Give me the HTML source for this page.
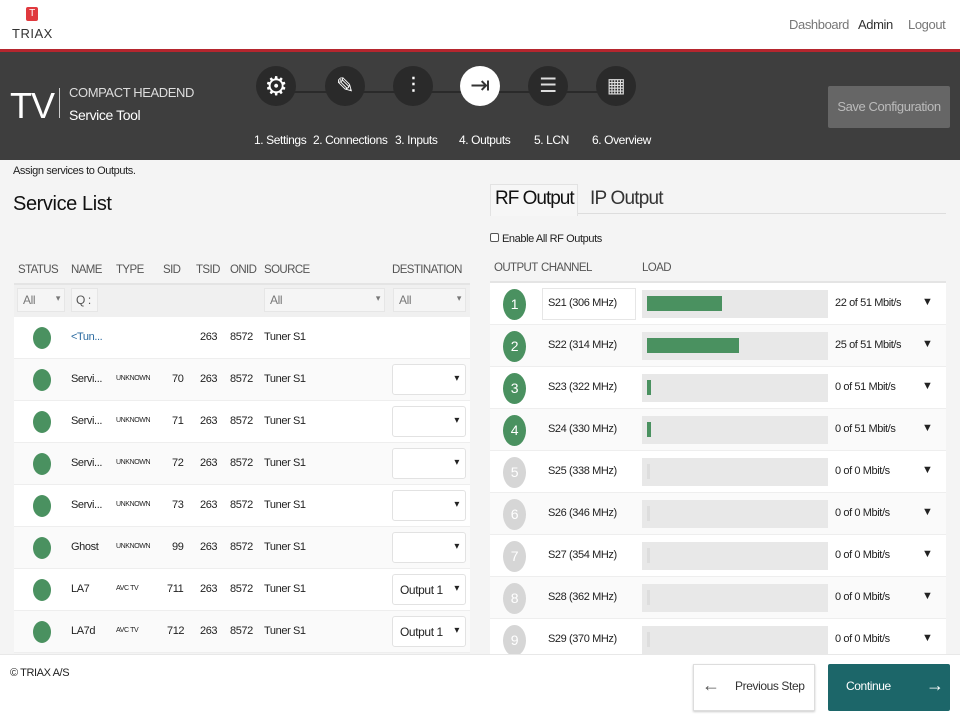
<!DOCTYPE html>
<html><head><meta charset="utf-8"><style>
*{box-sizing:border-box;margin:0;padding:0}
body{width:960px;height:720px;overflow:hidden;background:#f4f4f4;font-family:"Liberation Sans",sans-serif;color:#222;position:relative;letter-spacing:-0.4px}
.a{position:absolute;white-space:nowrap}
.c{font-size:11px}
.circ{position:absolute;width:40px;height:40px;border-radius:50%;background:#2a2a2a}
.lbl{position:absolute;color:#fff;font-size:12px;top:133px}
.row{position:absolute;left:14px;width:456px;height:42px;border-bottom:1px solid #eee}
.dot{position:absolute;left:19px;top:10px;width:18px;height:22px;border-radius:50%;background:#4a9160}
.sel{position:absolute;left:378px;top:5px;width:74px;height:31px;background:#fff;border:1px solid #e2e2e2;border-radius:3px;font-size:12px;padding:8px 0 0 7px}
.sel:after{content:"▾";position:absolute;right:6px;top:8px;font-size:10px}
.rrow{position:absolute;left:490px;width:456px;height:42px;border-bottom:1px solid #eee}
.num{position:absolute;left:13px;top:6px;width:23px;height:31px;border-radius:50%;color:#fff;font-size:14px;text-align:center;line-height:31px}
.bar{position:absolute;left:152px;top:7px;width:186px;height:28px;background:#e8e8e8}
.fill{position:absolute;left:5px;top:6px;height:15px;background:#4a9160}
.h{font-size:11.5px;color:#555;letter-spacing:-0.6px}
</style></head><body>
<div class="a" style="left:0;top:0;width:960px;height:49px;background:#fff"></div>
<div class="a" style="left:26px;top:7px;width:12px;height:14px;background:#e0393e;border-radius:2px;color:#fff;font-size:10px;text-align:center;line-height:14px">T</div>
<div class="a" style="left:12px;top:26px;font-size:13px;color:#333;letter-spacing:0.5px">TRIAX</div>
<div class="a" style="left:789px;top:17px;font-size:13px;color:#777">Dashboard</div>
<div class="a" style="left:858px;top:17px;font-size:13px;color:#333">Admin</div>
<div class="a" style="left:908px;top:17px;font-size:13px;color:#777">Logout</div>
<div class="a" style="left:0;top:49px;width:960px;height:3px;background:#b5262e"></div>
<div class="a" style="left:0;top:52px;width:960px;height:108px;background:#3e3e3e"></div>
<div class="a" style="left:10px;top:85px;font-size:36px;color:#fff;letter-spacing:-1px">TV</div>
<div class="a" style="left:59px;top:88px;width:1px;height:30px;background:#ccc"></div>
<div class="a" style="left:69px;top:85px;font-size:13px;color:#ddd">COMPACT HEADEND</div>
<div class="a" style="left:69px;top:107px;font-size:14px;color:#fff">Service Tool</div>
<div class="a" style="left:290px;top:91px;width:320px;height:2px;background:#2a2a2a"></div>
<div class="circ" style="left:256px;top:66px;color:#fff;font-size:26px;text-align:center;line-height:40px">⚙</div>
<div class="circ" style="left:325px;top:66px;color:#fff;font-size:22px;text-align:center;line-height:40px">✎</div>
<div class="circ" style="left:393px;top:66px;color:#fff;font-size:22px;text-align:center;line-height:40px">⫶</div>
<div class="circ" style="left:460px;top:66px;background:#fff;color:#333;font-size:24px;text-align:center;line-height:40px">⇥</div>
<div class="circ" style="left:528px;top:66px;color:#ddd;font-size:20px;text-align:center;line-height:40px">☰</div>
<div class="circ" style="left:596px;top:66px;color:#ddd;font-size:20px;text-align:center;line-height:40px">▦</div>
<div class="lbl" style="left:254px">1. Settings</div>
<div class="lbl" style="left:313px">2. Connections</div>
<div class="lbl" style="left:395px">3. Inputs</div>
<div class="lbl" style="left:459px">4. Outputs</div>
<div class="lbl" style="left:534px">5. LCN</div>
<div class="lbl" style="left:592px">6. Overview</div>
<div class="a" style="left:828px;top:86px;width:122px;height:42px;background:#666;border-radius:2px;color:#bbb;font-size:13px;text-align:center;line-height:42px">Save Configuration</div>

<div class="a" style="left:13px;top:165px;font-size:11px">Assign services to Outputs.</div>
<div class="a" style="left:13px;top:193px;font-size:20px;color:#111">Service List</div>
<div class="a h" style="left:18px;top:264px">STATUS</div>
<div class="a h" style="left:71px;top:264px">NAME</div>
<div class="a h" style="left:116px;top:264px">TYPE</div>
<div class="a h" style="left:163px;top:264px">SID</div>
<div class="a h" style="left:196px;top:264px">TSID</div>
<div class="a h" style="left:230px;top:264px">ONID</div>
<div class="a h" style="left:264px;top:264px">SOURCE</div>
<div class="a h" style="left:392px;top:264px">DESTINATION</div>
<div class="a" style="left:14px;top:283px;width:456px;height:34px;background:#f0f0f0;border-top:2px solid #e4e4e4"></div>
<div class="a" style="left:17px;top:288px;width:48px;height:24px;background:#f5f5f5;border:1px solid #e6e6e6;color:#777;font-size:12px;padding:4px 0 0 5px">All<span style="position:absolute;right:4px;font-size:9px">▾</span></div>
<div class="a" style="left:71px;top:288px;width:27px;height:24px;background:#f5f5f5;border:1px solid #e6e6e6;color:#555;font-size:12px;padding:4px 0 0 4px">Q :</div>
<div class="a" style="left:264px;top:288px;width:121px;height:24px;background:#f5f5f5;border:1px solid #e6e6e6;color:#777;font-size:12px;padding:4px 0 0 5px">All<span style="position:absolute;right:4px;font-size:9px">▾</span></div>
<div class="a" style="left:393px;top:288px;width:73px;height:24px;background:#f5f5f5;border:1px solid #e6e6e6;color:#777;font-size:12px;padding:4px 0 0 5px">All<span style="position:absolute;right:4px;font-size:9px">▾</span></div>

<div class="row" style="top:317px;background:#fff"><div class="dot"></div><span class="a c" style="left:57px;top:14px;color:#2a6aa0">&lt;Tun...</span><span class="a c" style="left:186px;top:14px">263</span><span class="a c" style="left:216px;top:14px">8572</span><span class="a c" style="left:250px;top:14px">Tuner S1</span></div>
<div class="row" style="top:359px;background:#fafafa"><div class="dot"></div><span class="a c" style="left:57px;top:14px">Servi...</span><span class="a" style="left:102px;top:16px;font-size:7px">UNKNOWN</span><span class="a c" style="left:158px;top:14px">70</span><span class="a c" style="left:186px;top:14px">263</span><span class="a c" style="left:216px;top:14px">8572</span><span class="a c" style="left:250px;top:14px">Tuner S1</span><div class="sel"></div></div>
<div class="row" style="top:401px;background:#fff"><div class="dot"></div><span class="a c" style="left:57px;top:14px">Servi...</span><span class="a" style="left:102px;top:16px;font-size:7px">UNKNOWN</span><span class="a c" style="left:158px;top:14px">71</span><span class="a c" style="left:186px;top:14px">263</span><span class="a c" style="left:216px;top:14px">8572</span><span class="a c" style="left:250px;top:14px">Tuner S1</span><div class="sel"></div></div>
<div class="row" style="top:443px;background:#fafafa"><div class="dot"></div><span class="a c" style="left:57px;top:14px">Servi...</span><span class="a" style="left:102px;top:16px;font-size:7px">UNKNOWN</span><span class="a c" style="left:158px;top:14px">72</span><span class="a c" style="left:186px;top:14px">263</span><span class="a c" style="left:216px;top:14px">8572</span><span class="a c" style="left:250px;top:14px">Tuner S1</span><div class="sel"></div></div>
<div class="row" style="top:485px;background:#fff"><div class="dot"></div><span class="a c" style="left:57px;top:14px">Servi...</span><span class="a" style="left:102px;top:16px;font-size:7px">UNKNOWN</span><span class="a c" style="left:158px;top:14px">73</span><span class="a c" style="left:186px;top:14px">263</span><span class="a c" style="left:216px;top:14px">8572</span><span class="a c" style="left:250px;top:14px">Tuner S1</span><div class="sel"></div></div>
<div class="row" style="top:527px;background:#fafafa"><div class="dot"></div><span class="a c" style="left:57px;top:14px">Ghost</span><span class="a" style="left:102px;top:16px;font-size:7px">UNKNOWN</span><span class="a c" style="left:158px;top:14px">99</span><span class="a c" style="left:186px;top:14px">263</span><span class="a c" style="left:216px;top:14px">8572</span><span class="a c" style="left:250px;top:14px">Tuner S1</span><div class="sel"></div></div>
<div class="row" style="top:569px;background:#fff"><div class="dot"></div><span class="a c" style="left:57px;top:14px">LA7</span><span class="a" style="left:102px;top:16px;font-size:7px">AVC TV</span><span class="a c" style="left:153px;top:14px">711</span><span class="a c" style="left:186px;top:14px">263</span><span class="a c" style="left:216px;top:14px">8572</span><span class="a c" style="left:250px;top:14px">Tuner S1</span><div class="sel">Output 1</div></div>
<div class="row" style="top:611px;background:#fafafa"><div class="dot"></div><span class="a c" style="left:57px;top:14px">LA7d</span><span class="a" style="left:102px;top:16px;font-size:7px">AVC TV</span><span class="a c" style="left:153px;top:14px">712</span><span class="a c" style="left:186px;top:14px">263</span><span class="a c" style="left:216px;top:14px">8572</span><span class="a c" style="left:250px;top:14px">Tuner S1</span><div class="sel">Output 1</div></div>

<div class="a" style="left:490px;top:184px;width:88px;height:32px;border:1px solid #e2e2e2;border-bottom:none;background:#f6f6f6"></div>
<div class="a" style="left:578px;top:213px;width:368px;height:1px;background:#ddd"></div>
<div class="a" style="left:495px;top:188px;font-size:19px;color:#111;letter-spacing:-1px">RF Output</div>
<div class="a" style="left:590px;top:188px;font-size:19px;color:#333;letter-spacing:-0.8px">IP Output</div>
<div class="a" style="left:490px;top:233px;width:9px;height:9px;border:1px solid #555;border-radius:2px;background:#fff"></div>
<div class="a c" style="left:502px;top:233px">Enable All RF Outputs</div>
<div class="a h" style="left:494px;top:262px">OUTPUT</div>
<div class="a h" style="left:541px;top:262px">CHANNEL</div>
<div class="a h" style="left:642px;top:262px">LOAD</div>
<div class="a" style="left:490px;top:281px;width:456px;height:2px;background:#e4e4e4"></div>

<div class="rrow" style="top:283px;background:#fff"><div class="num" style="background:#4a9160">1</div><div class="a" style="left:52px;top:5px;width:94px;height:32px;border:1px solid #e6e6e6;background:#fff"></div><span class="a c" style="left:58px;top:14px">S21 (306 MHz)</span><div class="bar"><div class="fill" style="width:75px"></div></div><span class="a c" style="left:345px;top:14px">22 of 51 Mbit/s</span><span class="a" style="left:432px;top:13px;font-size:11px">▼</span></div>
<div class="rrow" style="top:325px;background:#fafafa"><div class="num" style="background:#4a9160">2</div><span class="a c" style="left:58px;top:14px">S22 (314 MHz)</span><div class="bar"><div class="fill" style="width:92px"></div></div><span class="a c" style="left:345px;top:14px">25 of 51 Mbit/s</span><span class="a" style="left:432px;top:13px;font-size:11px">▼</span></div>
<div class="rrow" style="top:367px;background:#fff"><div class="num" style="background:#4a9160">3</div><span class="a c" style="left:58px;top:14px">S23 (322 MHz)</span><div class="bar"><div class="fill" style="width:4px"></div></div><span class="a c" style="left:345px;top:14px">0 of 51 Mbit/s</span><span class="a" style="left:432px;top:13px;font-size:11px">▼</span></div>
<div class="rrow" style="top:409px;background:#fafafa"><div class="num" style="background:#4a9160">4</div><span class="a c" style="left:58px;top:14px">S24 (330 MHz)</span><div class="bar"><div class="fill" style="width:4px"></div></div><span class="a c" style="left:345px;top:14px">0 of 51 Mbit/s</span><span class="a" style="left:432px;top:13px;font-size:11px">▼</span></div>
<div class="rrow" style="top:451px;background:#fff"><div class="num" style="background:#d6d6d6">5</div><span class="a c" style="left:58px;top:14px">S25 (338 MHz)</span><div class="bar"><div class="fill" style="width:3px;background:#ddd"></div></div><span class="a c" style="left:345px;top:14px">0 of 0 Mbit/s</span><span class="a" style="left:432px;top:13px;font-size:11px">▼</span></div>
<div class="rrow" style="top:493px;background:#fafafa"><div class="num" style="background:#d6d6d6">6</div><span class="a c" style="left:58px;top:14px">S26 (346 MHz)</span><div class="bar"><div class="fill" style="width:3px;background:#ddd"></div></div><span class="a c" style="left:345px;top:14px">0 of 0 Mbit/s</span><span class="a" style="left:432px;top:13px;font-size:11px">▼</span></div>
<div class="rrow" style="top:535px;background:#fff"><div class="num" style="background:#d6d6d6">7</div><span class="a c" style="left:58px;top:14px">S27 (354 MHz)</span><div class="bar"><div class="fill" style="width:3px;background:#ddd"></div></div><span class="a c" style="left:345px;top:14px">0 of 0 Mbit/s</span><span class="a" style="left:432px;top:13px;font-size:11px">▼</span></div>
<div class="rrow" style="top:577px;background:#fafafa"><div class="num" style="background:#d6d6d6">8</div><span class="a c" style="left:58px;top:14px">S28 (362 MHz)</span><div class="bar"><div class="fill" style="width:3px;background:#ddd"></div></div><span class="a c" style="left:345px;top:14px">0 of 0 Mbit/s</span><span class="a" style="left:432px;top:13px;font-size:11px">▼</span></div>
<div class="rrow" style="top:619px;background:#fff"><div class="num" style="background:#d6d6d6">9</div><span class="a c" style="left:58px;top:14px">S29 (370 MHz)</span><div class="bar"><div class="fill" style="width:3px;background:#ddd"></div></div><span class="a c" style="left:345px;top:14px">0 of 0 Mbit/s</span><span class="a" style="left:432px;top:13px;font-size:11px">▼</span></div>

<div class="a" style="left:0;top:654px;width:960px;height:66px;background:#fff;border-top:1px solid #e8e8e8"></div>
<div class="a c" style="left:10px;top:667px">© TRIAX A/S</div>
<div class="a" style="left:693px;top:664px;width:122px;height:47px;background:#fff;border:1px solid #ddd;box-shadow:0 1px 2px #ccc"></div>
<div class="a" style="left:702px;top:675px;font-size:18px;color:#555">←</div>
<div class="a" style="left:735px;top:679px;font-size:12px;color:#333">Previous Step</div>
<div class="a" style="left:828px;top:664px;width:122px;height:47px;background:#1c6669;border-radius:2px"></div>
<div class="a" style="left:846px;top:679px;font-size:12px;color:#fff">Continue</div>
<div class="a" style="left:926px;top:675px;font-size:18px;color:#fff">→</div>
</body></html>
